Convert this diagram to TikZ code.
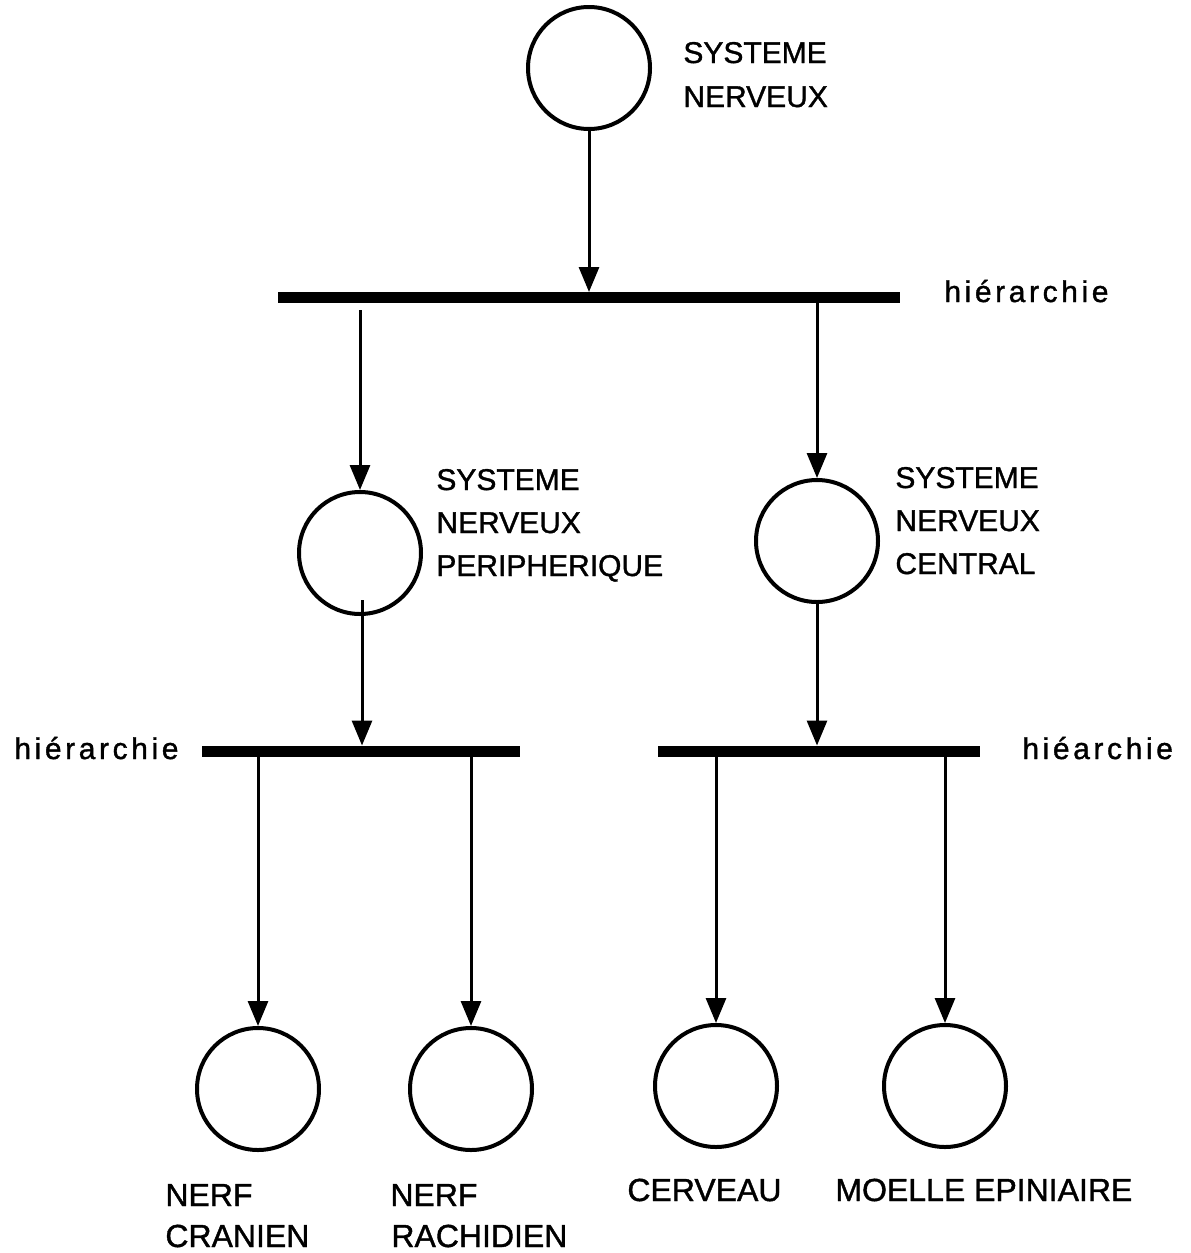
\documentclass[tikz,border=0pt]{standalone}
\usepackage{fontspec}
\setmainfont{Liberation Sans}[FakeBold=1.2]
\newfontfamily\spacedfont{Liberation Sans}[LetterSpace=12,FakeBold=1.2]
\usetikzlibrary{arrows.meta,calc}

\begin{document}
\begin{tikzpicture}[x=0.5pt,y=-0.5pt,
  unit/.style={circle,draw,line width=2pt,minimum size=61pt,inner sep=0pt},
  bar/.style={rectangle,fill=black,inner sep=0pt,outer sep=0pt,minimum height=5.5pt},
  link/.style={line width=1.5pt,-{Triangle[length=12.5pt,width=10pt]}},
  lbl/.style={anchor=base west,inner sep=0pt,font=\fontsize{15pt}{18pt}\selectfont},
  lblbig/.style={anchor=base west,inner sep=0pt,font=\fontsize{16pt}{19pt}\selectfont},
  tag/.style={anchor=base west,inner sep=0pt,font=\fontsize{15pt}{18pt}\spacedfont}]

\fill[white] (0,0) rectangle (1190,1253);
\useasboundingbox (0,0) rectangle (1190,1253);

% levels: root, two systems, four organs
\node[unit] (c0) at (589,68) {};
\node[unit] (c1) at (360,553) {};
\node[unit] (c2) at (817,541) {};
\node[unit] (c3) at (258,1089) {};
\node[unit] (c4) at (471,1089) {};
\node[unit] (c5) at (716,1086) {};
\node[unit] (c6) at (945,1086) {};

% hierarchy bars
\node[bar,minimum width=311pt] (b1) at (589,297.5) {};
\node[bar,minimum width=159pt] (b2l) at (361,751) {};
\node[bar,minimum width=161pt] (b2r) at (819,751) {};

% labels
\node[lbl] (t0a) at (683,63) {SYSTEME};
\node[lbl] (t0b) at (683,107) {NERVEUX};
\node[lbl] (t1a) at (436,490) {SYSTEME};
\node[lbl] (t1b) at (436,533) {NERVEUX};
\node[lbl] (t1c) at (436,576) {PERIPHERIQUE};
\node[lbl] (t2a) at (895,488) {SYSTEME};
\node[lbl] (t2b) at (895,531) {NERVEUX};
\node[lbl] (t2c) at (895,574) {CENTRAL};
\node[lblbig] (t3a) at (165,1206) {NERF};
\node[lblbig] (t3b) at (165,1247) {CRANIEN};
\node[lblbig] (t4a) at (390,1206) {NERF};
\node[lblbig] (t4b) at (391,1247) {RACHIDIEN};
\node[lblbig] (t5) at (627,1201) {CERVEAU};
\node[lblbig] (t6) at (835,1201) {MOELLE EPINIAIRE};
\node[tag] (h1) at (944,302) {hiérarchie};
\node[tag] (h2) at (14,759) {hiérarchie};
\node[tag] (h3) at (1022,759) {hiéarchie};

% connectors
\draw[link] (c0) -- (c0 |- b1.north);
\draw[link] ($(b1.south -| c1.north)+(0,7)$) -- (c1.north);
\draw[link] (b1.south -| c2.north) -- (c2.north);
\draw[link] ($(c1.south)+(2,-16)$) -- ($(b2l.north -| c1.south)+(2,0)$);
\draw[link] (c2.south) -- (c2.south |- b2r.north);
\draw[link] (b2l.south -| c3.north) -- (c3.north);
\draw[link] (b2l.south -| c4.north) -- (c4.north);
\draw[link] (b2r.south -| c5.north) -- (c5.north);
\draw[link] (b2r.south -| c6.north) -- (c6.north);
\end{tikzpicture}
\end{document}
